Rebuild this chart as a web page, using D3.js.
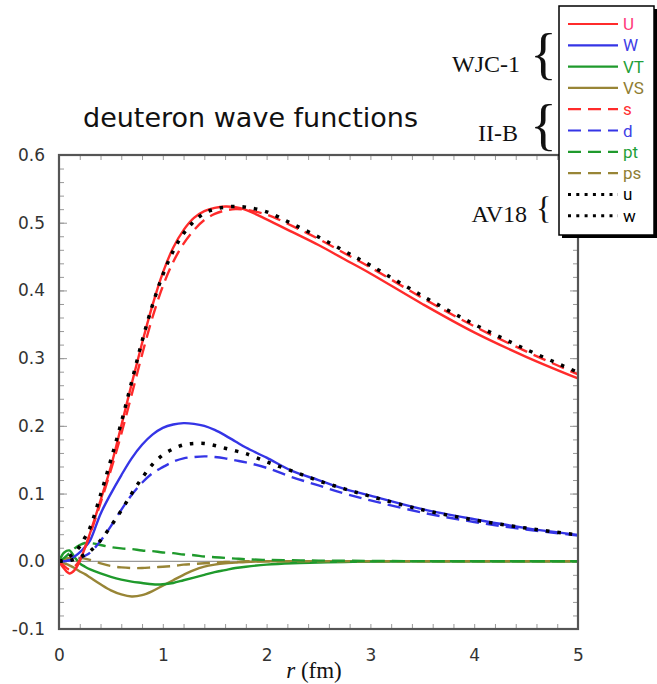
<!DOCTYPE html>
<html>
<head>
<meta charset="utf-8">
<script src="https://cdn.jsdelivr.net/npm/d3@7"></script>
<style>
  html, body { margin: 0; padding: 0; background: #fff; }
  svg { display: block; }
</style>
</head>
<body>
<svg id="chart" width="657" height="684"></svg>
<script>
// ---------------- data ----------------
const r  = [0, 0.05, 0.1, 0.15, 0.2, 0.25, 0.3, 0.4, 0.5, 0.6, 0.7, 0.8, 0.9, 1.0, 1.1, 1.2, 1.3, 1.4, 1.5, 1.6, 1.7, 1.8, 2.0, 2.25, 2.5, 2.75, 3.0, 3.5, 4.0, 4.5, 5.0];
// WJC-1
const U  = [0, -0.011, -0.018, -0.013, 0.0, 0.02, 0.042, 0.09, 0.14, 0.20, 0.262, 0.322, 0.378, 0.426, 0.463, 0.489, 0.507, 0.517, 0.522, 0.524, 0.523, 0.519, 0.505, 0.486, 0.467, 0.446, 0.425, 0.38, 0.338, 0.302, 0.270];
const W  = [0, 0.001, 0.003, 0.007, 0.013, 0.021, 0.031, 0.07, 0.1, 0.127, 0.152, 0.172, 0.187, 0.197, 0.202, 0.204, 0.203, 0.2, 0.194, 0.186, 0.177, 0.168, 0.153, 0.133, 0.12, 0.107, 0.097, 0.077, 0.062, 0.049, 0.039];
const VT = [0, 0.013, 0.016, 0.006, -0.003, -0.008, -0.012, -0.018, -0.023, -0.027, -0.03, -0.032, -0.034, -0.034, -0.032, -0.028, -0.024, -0.02, -0.016, -0.013, -0.01, -0.008, -0.005, -0.003, -0.002, -0.001, -0.0005, 0, 0, 0, 0];
const VS = [0, -0.003, -0.006, -0.01, -0.015, -0.019, -0.024, -0.034, -0.043, -0.049, -0.052, -0.05, -0.044, -0.036, -0.028, -0.02, -0.013, -0.008, -0.005, -0.003, -0.002, -0.001, 0, 0, 0, 0, 0, 0, 0, 0, 0];
// II-B
const s  = [0, -0.007, -0.012, -0.008, 0.002, 0.02, 0.04, 0.086, 0.135, 0.188, 0.246, 0.305, 0.36, 0.406, 0.442, 0.469, 0.489, 0.504, 0.513, 0.518, 0.52, 0.519, 0.512, 0.495, 0.476, 0.455, 0.434, 0.389, 0.347, 0.310, 0.276];
const d  = [0, 0.0, 0.001, 0.002, 0.004, 0.008, 0.013, 0.03, 0.052, 0.076, 0.098, 0.116, 0.13, 0.139, 0.147, 0.152, 0.154, 0.155, 0.154, 0.152, 0.149, 0.146, 0.138, 0.124, 0.112, 0.1, 0.09, 0.072, 0.058, 0.047, 0.038];
const pt = [0, 0.005, 0.012, 0.019, 0.024, 0.027, 0.027, 0.024, 0.021, 0.019, 0.018, 0.016, 0.015, 0.013, 0.012, 0.01, 0.009, 0.007, 0.006, 0.005, 0.004, 0.003, 0.002, 0.0015, 0.001, 0.0008, 0.0005, 0.0002, 0, 0, 0];
const ps = [0, 0.003, 0.005, 0.006, 0.005, 0.004, 0.002, -0.003, -0.007, -0.009, -0.01, -0.01, -0.009, -0.008, -0.007, -0.005, -0.004, -0.003, -0.002, -0.001, -0.001, 0, 0, 0, 0, 0, 0, 0, 0, 0, 0];
// AV18
const u  = [0, 0.002, 0.007, 0.013, 0.022, 0.035, 0.05, 0.098, 0.15, 0.205, 0.265, 0.325, 0.378, 0.423, 0.458, 0.484, 0.502, 0.514, 0.52, 0.523, 0.524, 0.523, 0.516, 0.498, 0.479, 0.458, 0.437, 0.392, 0.350, 0.313, 0.279];
const w  = [0, 0.0, 0.001, 0.003, 0.006, 0.01, 0.015, 0.031, 0.052, 0.075, 0.1, 0.123, 0.143, 0.157, 0.166, 0.172, 0.174, 0.174, 0.171, 0.167, 0.163, 0.159, 0.147, 0.133, 0.119, 0.107, 0.096, 0.076, 0.061, 0.049, 0.039];

const xTicks = [0, 1, 2, 3, 4, 5];
const yTicks = [-0.1, 0.0, 0.1, 0.2, 0.3, 0.4, 0.5, 0.6];

const seriesNames  = ["VS", "VT", "W", "U", "ps", "pt", "d", "s", "w", "u"];
const legendOrder  = ["U", "W", "VT", "VS", "s", "d", "pt", "ps", "u", "w"];
const seriesValues = {U, W, VT, VS, s, d, pt, ps, u, w};
const groupLabels  = ["WJC-1", "II-B", "AV18"];

// ---------------- styles ----------------
const RED = "#ff2b2b", BLUE = "#3535e6", GREEN = "#1f9a2c", OLIVE = "#988536";
const style = {
  U:  {stroke: RED,   dash: null, text: "#ff3a7a"},
  W:  {stroke: BLUE,  dash: null, text: "#4040e6"},
  VT: {stroke: GREEN, dash: null, text: "#1fa03a"},
  VS: {stroke: OLIVE, dash: null, text: "#8f7d33"},
  s:  {stroke: RED,   dash: "13,7", text: "#ff3030"},
  d:  {stroke: BLUE,  dash: "13,7", text: "#4040e6"},
  pt: {stroke: GREEN, dash: "13,7", text: "#1fa03a"},
  ps: {stroke: OLIVE, dash: "13,7", text: "#8f7d33"},
  u:  {stroke: "#000", dash: "3.5,8", text: "#000", dot: true},
  w:  {stroke: "#000", dash: "3.5,8", text: "#000", dot: true}
};

// ---------------- layout ----------------
const svg = d3.select("#chart");
const L = 59, R = 578, T = 155, B = 629;
const x = d3.scaleLinear().domain([0, 5]).range([L, R]);
const y = d3.scaleLinear().domain([-0.1, 0.6]).range([B, T]);

// title
svg.append("text").attr("x", 83).attr("y", 127)
  .attr("font-family", "DejaVu Sans, sans-serif").attr("font-size", 27)
  .attr("fill", "#111").text("deuteron wave functions");

// zero line
svg.append("line").attr("x1", L).attr("x2", R).attr("y1", y(0)).attr("y2", y(0))
  .attr("stroke", "#999").attr("stroke-width", 1.2);

// ticks (inward) via axes
const tickCol = "#999";
function styleAxis(g) {
  g.select(".domain").remove();
  g.selectAll("line").attr("stroke", tickCol).attr("stroke-width", 1);
  g.selectAll("text").remove();
}
const xMinor = d3.range(0, 5.0001, 0.2);
const yMinor = d3.range(-0.1, 0.6001, 0.02);
svg.append("g").attr("transform", `translate(0,${B})`)
  .call(d3.axisTop(x).tickValues(xMinor).tickSize(5)).call(styleAxis);
svg.append("g").attr("transform", `translate(0,${T})`)
  .call(d3.axisBottom(x).tickValues(xMinor).tickSize(5)).call(styleAxis);
svg.append("g").attr("transform", `translate(${L},0)`)
  .call(d3.axisRight(y).tickValues(yMinor).tickSize(5)).call(styleAxis);
svg.append("g").attr("transform", `translate(${R},0)`)
  .call(d3.axisLeft(y).tickValues(yMinor).tickSize(5)).call(styleAxis);
svg.append("g").attr("transform", `translate(${L},0)`)
  .call(d3.axisRight(y).tickValues(yTicks).tickSize(8)).call(styleAxis);
svg.append("g").attr("transform", `translate(${R},0)`)
  .call(d3.axisLeft(y).tickValues(yTicks).tickSize(8)).call(styleAxis);

// tick labels (hyphen-minus as in the reference)
const fmtY = v => d3.format(".1f")(v).replace("\u2212", "-");
const yAx = svg.append("g").attr("transform", `translate(${L},0)`)
  .call(d3.axisLeft(y).tickValues(yTicks).tickSize(0).tickPadding(14).tickFormat(fmtY));
yAx.select(".domain").remove();
yAx.selectAll("text").attr("font-family", "DejaVu Sans, sans-serif").attr("font-size", 17).attr("fill", "#333");
const xAx = svg.append("g").attr("transform", `translate(0,${B})`)
  .call(d3.axisBottom(x).tickValues(xTicks).tickSize(0).tickPadding(20).tickFormat(d3.format("d")));
xAx.select(".domain").remove();
xAx.selectAll("text").attr("font-family", "DejaVu Sans, sans-serif").attr("font-size", 17).attr("fill", "#333");

// x label
const xl = svg.append("text").attr("x", 314).attr("y", 678).attr("text-anchor", "middle")
  .attr("font-family", "Liberation Serif, Times New Roman, serif").attr("font-size", 23).attr("fill", "#111");
xl.append("tspan").attr("font-style", "italic").text("r");
xl.append("tspan").text(" (fm)");

// curves
const line = d3.line().x((v, i) => x(r[i])).y(v => y(v)).curve(d3.curveCatmullRom.alpha(0.5));
const curves = svg.append("g");
seriesNames.forEach(n => {
  const st = style[n];
  curves.append("path").datum(seriesValues[n])
    .attr("d", line)
    .attr("fill", "none")
    .attr("stroke", st.stroke)
    .attr("stroke-width", st.dot ? 3.5 : 2.4)
    .attr("stroke-dasharray", st.dash)
    .attr("stroke-linejoin", "round");
});

// frame
svg.append("rect").attr("x", L).attr("y", T).attr("width", R - L).attr("height", B - T)
  .attr("fill", "none").attr("stroke", "#555").attr("stroke-width", 2.2);

// group labels + braces
const gl = svg.append("g").attr("font-family", "Liberation Serif, Times New Roman, serif").attr("fill", "#111");
const groups = [
  {label: groupLabels[0], lx: 520, ly: 72, bx: 530, by: 73, bs: 56},
  {label: groupLabels[1], lx: 518, ly: 141, bx: 530, by: 144, bs: 56},
  {label: groupLabels[2], lx: 527, ly: 222, bx: 536, by: 219, bs: 32}
];
groups.forEach(g => {
  gl.append("text").attr("x", g.lx).attr("y", g.ly).attr("text-anchor", "end")
    .attr("font-size", 24).text(g.label);
  gl.append("text").attr("x", g.bx).attr("y", g.by).attr("font-size", g.bs).text("{");
});

// legend
const LX = 559, LY = 6, LW = 95, LH = 229;
svg.append("rect").attr("x", LX + 3).attr("y", LY + 3).attr("width", LW).attr("height", LH)
  .attr("fill", "#000");
svg.append("rect").attr("x", LX).attr("y", LY).attr("width", LW).attr("height", LH)
  .attr("fill", "#fff").attr("stroke", "#000").attr("stroke-width", 1.5);
const leg = svg.append("g");
legendOrder.forEach((n, i) => {
  const st = style[n];
  const yy = 24 + i * 21.3;
  leg.append("line").attr("x1", 568).attr("x2", 618).attr("y1", yy).attr("y2", yy)
    .attr("stroke", st.stroke).attr("stroke-width", st.dot ? 3 : 2.2)
    .attr("stroke-dasharray", st.dot ? "3,5.3" : (st.dash ? "13,7" : null));
  leg.append("text").attr("x", 623).attr("y", yy + 6)
    .attr("font-family", "Roboto, sans-serif").attr("font-size", 17)
    .attr("fill", st.text).text(n);
});
</script>
</body>
</html>
